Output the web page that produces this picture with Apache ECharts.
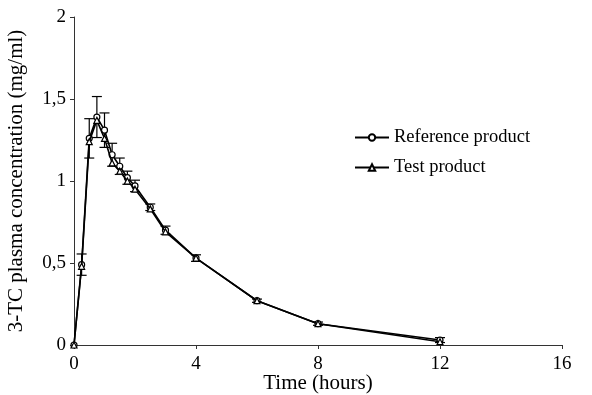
<!DOCTYPE html>
<html>
<head>
<meta charset="utf-8">
<script src="https://cdn.jsdelivr.net/npm/echarts@6/dist/echarts.min.js"></script>
<style>
html,body{margin:0;padding:0;background:#fff;}
#chart{width:592px;height:395px;}
</style>
</head>
<body>
<div id="chart"></div>
<script>
var times = [0, 0.25, 0.5, 0.75, 1, 1.25, 1.5, 1.75, 2, 2.5, 3, 4, 6, 8, 12];
var referenceValues = [0, 0.49, 1.26, 1.39, 1.31, 1.16, 1.09, 1.02, 0.97, 0.84, 0.70, 0.53, 0.27, 0.13, 0.03];
var testValues = [0, 0.48, 1.24, 1.37, 1.26, 1.11, 1.06, 1.00, 0.95, 0.83, 0.69, 0.53, 0.27, 0.13, 0.02];
var referenceSD = [0, 0.065, 0.12, 0.125, 0.105, 0.07, 0.05, 0.04, 0.035, 0.02, 0.025, 0.02, 0.01, 0.01, 0.015];
var xTicks = [0, 4, 8, 12, 16];
var yTicks = [0, 0.5, 1, 1.5, 2];

var font = 'Liberation Serif';
var refData = times.map(function (t, i) { return [t, referenceValues[i]]; });
var testData = times.map(function (t, i) { return [t, testValues[i]]; });
var errData = times.map(function (t, i) {
  return [t, referenceValues[i] - referenceSD[i], referenceValues[i] + referenceSD[i]];
}).filter(function (d, i) { return referenceSD[i] > 0; });

var chart = echarts.init(document.getElementById('chart'));
chart.setOption({
  animation: false,
  backgroundColor: '#fff',
  grid: { left: 74, right: 30, top: 17, bottom: 50, containLabel: false, outerBoundsMode: 'none' },
  legend: {
    orient: 'vertical',
    left: 349,
    top: 123,
    itemWidth: 34,
    itemHeight: 8,
    itemGap: 11,
    textStyle: { fontFamily: font, fontSize: 18.5, color: '#000' },
    data: ['Reference product', 'Test product']
  },
  xAxis: {
    type: 'value',
    min: xTicks[0], max: xTicks[xTicks.length - 1], interval: 4,
    name: 'Time (hours)',
    nameLocation: 'middle',
    nameGap: 28,
    nameMoveOverlap: false,
    nameTextStyle: { fontFamily: font, fontSize: 21, color: '#000' },
    axisLine: { onZero: false, lineStyle: { color: '#333', width: 1 } },
    axisTick: { show: true, length: 4, lineStyle: { color: '#333' } },
    axisLabel: { fontFamily: font, fontSize: 19, color: '#000', margin: 10 },
    splitLine: { show: false }
  },
  yAxis: {
    type: 'value',
    min: yTicks[0], max: yTicks[yTicks.length - 1], interval: 0.5,
    name: '3-TC plasma concentration (mg/ml)',
    nameLocation: 'middle',
    nameGap: 47,
    nameMoveOverlap: false,
    nameTextStyle: { fontFamily: font, fontSize: 21, color: '#000' },
    axisLine: { show: true, lineStyle: { color: '#333', width: 1 } },
    axisTick: { show: true, length: 4, lineStyle: { color: '#333' } },
    axisLabel: {
      fontFamily: font, fontSize: 19, color: '#000', margin: 8,
      formatter: function (v) { return String(v).replace('.', ','); }
    },
    splitLine: { show: false }
  },
  series: [
    {
      name: 'error',
      type: 'custom',
      data: errData,
      z: 3,
      renderItem: function (params, api) {
        var x = api.value(0);
        var lo = api.coord([x, api.value(1)]);
        var hi = api.coord([x, api.value(2)]);
        var w = 5;
        var st = { stroke: '#000', lineWidth: 1.2 };
        return {
          type: 'group',
          children: [
            { type: 'line', shape: { x1: hi[0], y1: hi[1], x2: lo[0], y2: lo[1] }, style: st },
            { type: 'line', shape: { x1: hi[0] - w, y1: hi[1], x2: hi[0] + w, y2: hi[1] }, style: st },
            { type: 'line', shape: { x1: lo[0] - w, y1: lo[1], x2: lo[0] + w, y2: lo[1] }, style: st }
          ]
        };
      }
    },
    {
      name: 'Reference product',
      type: 'line',
      data: refData,
      symbol: 'circle',
      symbolSize: 6,
      z: 4,
      lineStyle: { color: '#000', width: 1.6 },
      itemStyle: { color: '#fff', borderColor: '#000', borderWidth: 1.2 }
    },
    {
      name: 'Test product',
      type: 'line',
      data: testData,
      symbol: 'triangle',
      symbolSize: 6,
      z: 5,
      lineStyle: { color: '#000', width: 1.6 },
      itemStyle: { color: '#fff', borderColor: '#000', borderWidth: 1.2 }
    }
  ]
});
</script>
</body>
</html>
